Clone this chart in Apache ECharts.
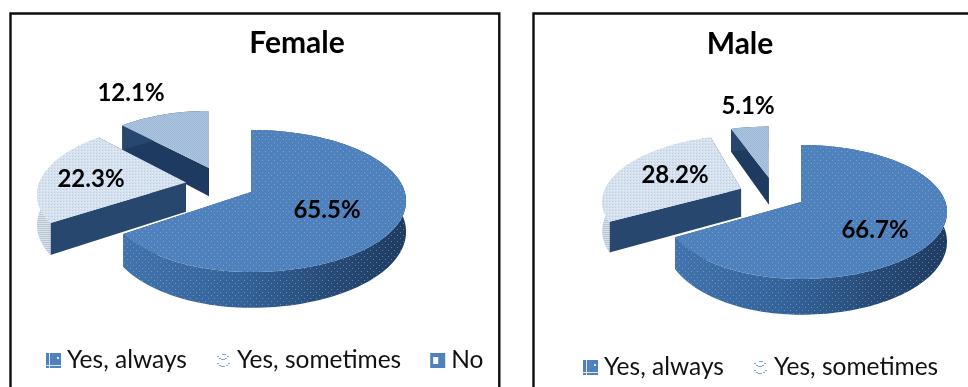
<!DOCTYPE html>
<html>
<head>
<meta charset="utf-8">
<style>html,body{margin:0;padding:0;background:#fff}#chart{width:968px;height:387px}</style>
<script src="https://cdn.jsdelivr.net/npm/echarts@6/dist/echarts.min.js"></script>
</head>
<body>
<div id="chart"></div>
<script>
// Survey shares by gender
const categories = ['Yes, always', 'Yes, sometimes', 'No'];
const femaleValues = [65.5, 22.3, 12.1];
const maleValues = [66.7, 28.2, 5.1];
const pieTitles = ['Female', 'Male'];

const FONT = 'Lato, "Open Sans", sans-serif';

// Perspective disc geometry and slice placement for each pie.
// explode entries: disc offset x, disc offset y, spread of the left half of the arc, rigid x offset
const pies = [
  {
    values: femaleValues, title: pieTitles[0],
    cx: 251, cy: 192, b: 153.8, a: 69.9, k: 0.127, height: 30,
    explode: [[0, 0, 0.93, false], [-0.43, -0.14, 0.97, false], [-0.273, -0.36, 0.93, true]],
    labels: [[327, 210], [91, 179], [131, 93]],
    titlePos: [297, 43]
  },
  {
    values: maleValues, title: pieTitles[1],
    cx: 801, cy: 202, b: 144.4, a: 65.5, k: 0.149, height: 29,
    explode: [[0, 0, 0.93, false], [-0.428, -0.208, 0.97, false], [-0.222, -0.39, 1, true]],
    labels: [[875, 230], [675, 175], [748, 106]],
    titlePos: [740, 44]
  }
];

function makeTile(size, paint) {
  const c = document.createElement('canvas');
  c.width = c.height = size;
  paint(c.getContext('2d'));
  return { image: c, repeat: 'repeat' };
}

// Fine textures used on the slice faces
const dotTile = makeTile(6, (g) => {
  g.fillStyle = 'rgba(170,205,245,0.45)';
  g.fillRect(1, 1, 1, 1);
  g.fillRect(4, 4, 1, 1);
});
const paleTile = makeTile(3, (g) => {
  g.fillStyle = '#d5e1ef';
  g.fillRect(0, 0, 3, 3);
  g.fillStyle = '#bccee4';
  g.fillRect(0, 0, 1, 1);
  g.fillStyle = '#e9f0f7';
  g.fillRect(2, 1, 1, 1);
});
const midTile = makeTile(2, (g) => {
  g.fillStyle = '#b0c7e1';
  g.fillRect(0, 0, 2, 2);
  g.fillStyle = '#9ab5d5';
  g.fillRect(0, 0, 1, 1);
  g.fillRect(1, 1, 1, 1);
});
const rimTile = makeTile(2, (g) => {
  g.fillStyle = '#dae2ec';
  g.fillRect(0, 0, 2, 2);
  g.fillStyle = '#b7c4d4';
  g.fillRect(0, 0, 2, 1);
});

// Legend swatches
const swatches = [
  makeTile(15, (g) => {
    g.fillStyle = '#4f81bd';
    g.fillRect(0, 0, 15, 15);
    g.fillStyle = '#dfe9f5';
    g.fillRect(3, 0, 1, 15);
    g.fillRect(0, 12, 15, 1);
    g.fillRect(11, 4, 2, 2);
  }),
  makeTile(15, (g) => {
    g.fillStyle = '#ffffff';
    g.fillRect(0, 0, 15, 15);
    g.fillStyle = '#7fa3d0';
    [[1, 3], [3, 5], [5, 6], [7, 6], [9, 5], [11, 3], [6, 1], [8, 1], [1, 10], [3, 12], [5, 13], [7, 13], [10, 12], [12, 10]].forEach((p) => g.fillRect(p[0], p[1], 2, 1));
  }),
  makeTile(15, (g) => {
    g.fillStyle = '#4f81bd';
    g.fillRect(0, 0, 15, 15);
    g.fillStyle = '#ffffff';
    g.fillRect(3, 4, 5, 7);
  })
];

const faceStyles = [
  {
    top: '#4f81bd', overlay: dotTile, cut: '#2b5079',
    rim: () => new echarts.graphic.LinearGradient(0, 0, 1, 0, [
      { offset: 0, color: '#4373ac' },
      { offset: 0.4, color: '#34639a' },
      { offset: 0.75, color: '#264a75' },
      { offset: 1, color: '#1f3b60' }
    ]),
    rimOverlay: dotTile
  },
  { top: paleTile, cut: '#27476e', rim: () => rimTile },
  { top: midTile, cut: '#1f3a60', rim: () => '#27476e' }
];

function slicePoints(pie, index, start, end) {
  const [ox, oy, spread, rigid] = pie.explode[index];
  const place = (X, Y) => {
    const discY = oy + Y;
    const d = 1 - pie.k * discY;
    const discX = rigid ? X : ox + X;
    const x = pie.cx + pie.b * discX / d + (rigid ? pie.b * ox : 0);
    return { x, y: pie.cy + pie.a * discY / d, drop: pie.height / Math.pow(d, 1.3) };
  };
  const steps = Math.max(4, Math.round((end - start) / 0.03));
  const arc = [];
  for (let i = 0; i <= steps; i++) {
    const t = start + (end - start) * i / steps;
    const s = Math.sin(t);
    arc.push(place(s < 0 ? s * spread : s, -Math.cos(t)));
  }
  return { arc, apex: place(0, 0) };
}

const xy = (p) => [p.x, p.y];
const low = (p) => [p.x, p.y + p.drop];

function renderSlice(pie, index) {
  return function (params, api) {
    const total = pie.values.reduce((s, v) => s + v, 0);
    const before = pie.values.slice(0, index).reduce((s, v) => s + v, 0);
    const start = before / total * Math.PI * 2;
    const end = start + api.value(0) / total * Math.PI * 2;
    const { arc, apex } = slicePoints(pie, index, start, end);
    const look = faceStyles[index];
    const first = arc[0];
    const last = arc[arc.length - 1];
    const rimPts = arc.map(xy).concat(arc.slice().reverse().map(low));
    const topPts = [xy(apex)].concat(arc.map(xy));
    const kids = [
      { type: 'polygon', shape: { points: [xy(apex), xy(first), low(first), low(apex)] }, style: { fill: look.cut } },
      { type: 'polygon', shape: { points: [xy(apex), xy(last), low(last), low(apex)] }, style: { fill: look.cut } },
      { type: 'polygon', shape: { points: rimPts }, style: { fill: look.rim() } }
    ];
    if (look.rimOverlay) {
      kids.push({ type: 'polygon', shape: { points: rimPts }, style: { fill: look.rimOverlay } });
    }
    kids.push({ type: 'polygon', shape: { points: topPts }, style: { fill: look.top } });
    if (look.overlay) {
      kids.push({ type: 'polygon', shape: { points: topPts }, style: { fill: look.overlay } });
    }
    kids.push({
      type: 'text',
      style: {
        x: pie.labels[index][0], y: pie.labels[index][1],
        text: api.value(0).toFixed(1) + '%',
        fill: '#000', font: 'bold 24px ' + FONT, align: 'center', verticalAlign: 'middle'
      }
    });
    return { type: 'group', children: kids };
  };
}

const series = [];
pies.forEach((pie) => {
  // back slices first so the large slice sits in front
  [2, 1, 0].forEach((i) => {
    series.push({
      type: 'custom',
      name: categories[i],
      coordinateSystem: 'none',
      silent: true,
      animation: false,
      itemStyle: { color: '#4f81bd' },
      data: [[pie.values[i]]],
      renderItem: renderSlice(pie, i)
    });
  });
});

function legendFor(names, left, top) {
  return {
    left, top, orient: 'horizontal', itemWidth: 15, itemHeight: 15, itemGap: 29, padding: 0,
    selectedMode: false,
    textStyle: { fontFamily: FONT, fontSize: 24.5, color: '#111', padding: [0, 0, 0, 1] },
    data: names.map((n) => ({
      name: n, icon: 'rect',
      itemStyle: { color: swatches[categories.indexOf(n)], decal: 'none', borderWidth: 0 }
    }))
  };
}

const chart = echarts.init(document.getElementById('chart'), null, { renderer: 'canvas' });
chart.setOption({
  backgroundColor: '#fff',
  animation: false,
  title: pies.map((p) => ({
    text: p.title, left: p.titlePos[0], top: p.titlePos[1] - 15, textAlign: 'center', padding: 0,
    textStyle: { fontFamily: FONT, fontWeight: 'bold', fontSize: 30, color: '#000' }
  })),
  legend: [
    legendFor(categories, 46, 348),
    legendFor(categories.slice(0, 2), 583, 355)
  ],
  graphic: [
    { type: 'rect', silent: true, z: -1, shape: { x: 10.5, y: 13.5, width: 488.8, height: 400 }, style: { fill: '#fff', stroke: '#0c0c0c', lineWidth: 2.4 } },
    { type: 'rect', silent: true, z: -1, shape: { x: 533.5, y: 13.5, width: 460, height: 400 }, style: { fill: '#fff', stroke: '#0c0c0c', lineWidth: 2.4 } }
  ],
  series
});
</script>
</body>
</html>
